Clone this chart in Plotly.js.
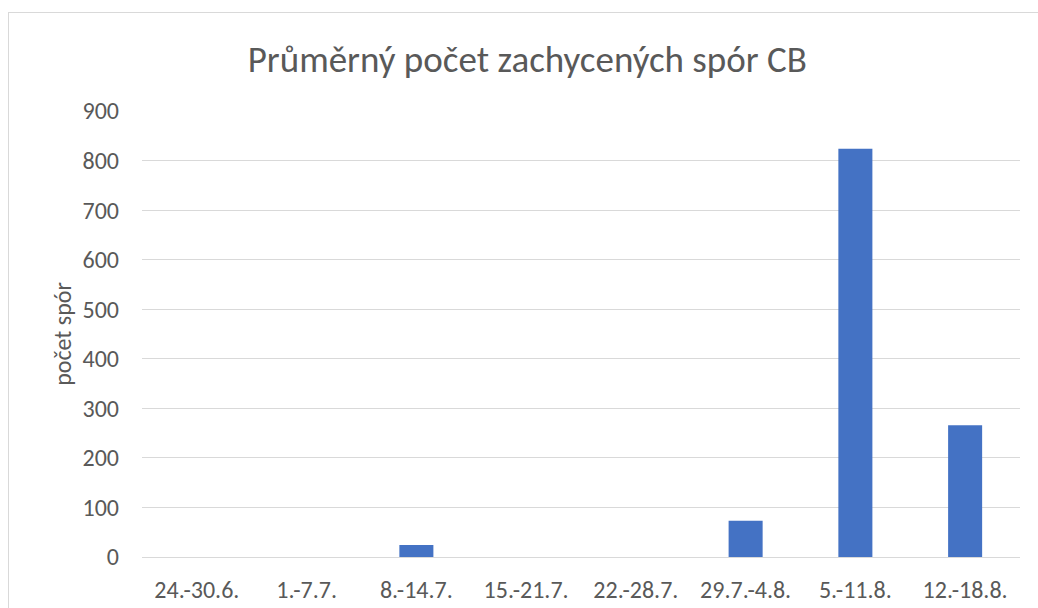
<!DOCTYPE html>
<html>
<head>
<meta charset="utf-8">
<script src="https://cdn.plot.ly/plotly-3.0.1.min.js"></script>
<style>
html,body{margin:0;padding:0;background:#fff;overflow:hidden;}
#chart{width:1038px;height:608px;position:absolute;left:0;top:0;}
#frame{position:absolute;left:8px;top:12px;width:1100px;height:700px;border-left:1px solid #d9d9d9;border-top:1px solid #d9d9d9;pointer-events:none;}
</style>
</head>
<body>
<div id="chart"></div>
<div id="frame"></div>
<script>
const categories = ["24.-30.6.", "1.-7.7.", "8.-14.7.", "15.-21.7.", "22.-28.7.", "29.7.-4.8.", "5.-11.8.", "12.-18.8."];
const values = [0, 0, 24, 0, 0, 73, 824, 266];
const yTicks = [0, 100, 200, 300, 400, 500, 600, 700, 800, 900];

const fontFam = "Calibri, Carlito, 'Open Sans', sans-serif";
const trace = {
  type: 'bar',
  x: categories,
  y: values,
  marker: {color: '#4472C4'},
  hoverinfo: 'x+y'
};
const layout = {
  width: 1038,
  height: 608,
  margin: {l: 142, r: 18, t: 111, b: 51},
  paper_bgcolor: '#ffffff',
  plot_bgcolor: '#ffffff',
  bargap: 0.69,
  showlegend: false,
  font: {family: fontFam, color: '#595959', size: 24},
  title: {
    text: 'Průměrný počet zachycených spór CB',
    font: {family: fontFam, size: 37, color: '#595959', weight: 300},
    x: 0.508, xanchor: 'center', xref: 'container',
    y: 0.903, yanchor: 'middle', yref: 'container'
  },
  xaxis: {
    type: 'category',
    showgrid: false,
    showline: false,
    zeroline: false,
    ticks: '',
    ticklabelstandoff: 16,
    tickfont: {family: fontFam, size: 24, color: '#595959'}
  },
  yaxis: {
    range: [0, 900],
    tickvals: yTicks,
    ticktext: yTicks.map(String),
    showgrid: true,
    gridcolor: '#d9d9d9',
    gridwidth: 1,
    zeroline: true,
    zerolinecolor: '#d9d9d9',
    zerolinewidth: 1,
    showline: false,
    ticks: '',
    ticklabelstandoff: 22,
    tickfont: {family: fontFam, size: 24, color: '#595959'},
    title: {text: 'počet spór', font: {family: fontFam, size: 24, color: '#595959'}, standoff: 4}
  }
};
Plotly.newPlot('chart', [trace], layout, {displayModeBar: false, staticPlot: true});
</script>
</body>
</html>
